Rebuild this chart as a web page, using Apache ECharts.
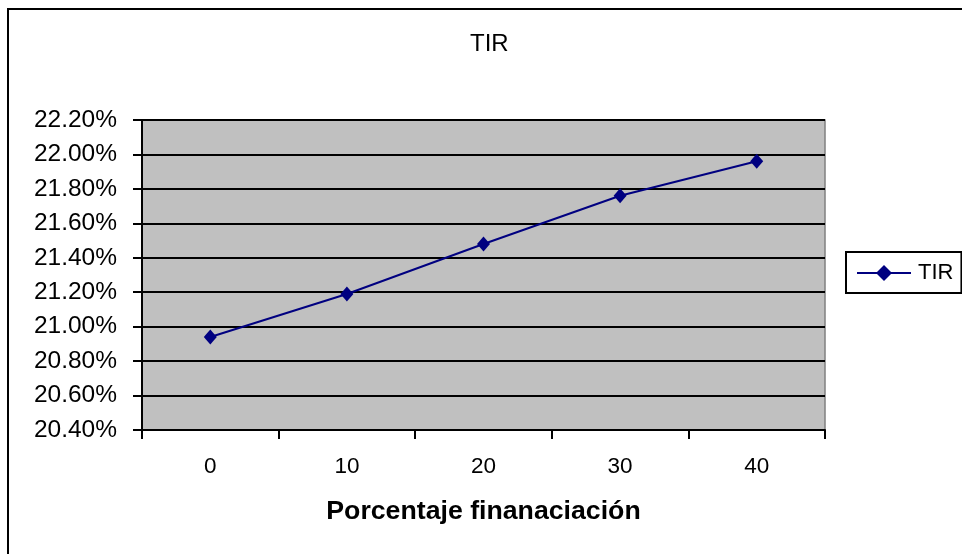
<!DOCTYPE html>
<html>
<head>
<meta charset="utf-8">
<title>TIR</title>
<script src="https://cdn.jsdelivr.net/npm/echarts@6/dist/echarts.min.js"></script>
<style>
  html, body { margin: 0; padding: 0; background: #ffffff; }
  #chart { width: 962px; height: 554px; }
</style>
</head>
<body>
<div id="chart"></div>
<script>
// Porcentaje de financiación (x) against TIR in percent (y)
const categories = ['0', '10', '20', '30', '40'];
const tirValues = [20.94, 21.19, 21.48, 21.76, 21.96];
const yMin = 20.4;
const yMax = 22.2;
const yStep = 0.2;

const FONT = '"Liberation Sans", Arial, sans-serif';

const chart = echarts.init(document.getElementById('chart'), null, { renderer: 'canvas' });

chart.setOption({
  backgroundColor: '#ffffff',
  animation: false,
  title: {
    text: 'TIR',
    left: 470,
    top: 32,
    padding: 0,
    textStyle: { fontFamily: FONT, fontSize: 24, fontWeight: 'normal', color: '#000' }
  },
  legend: {
    data: ['TIR'],
    left: 846,
    top: 252,
    orient: 'vertical',
    padding: [10, 8, 9, 10],
    borderColor: '#000',
    borderWidth: 2,
    backgroundColor: '#fff',
    itemWidth: 54,
    itemHeight: 20,
    itemGap: 0,
    textStyle: { fontFamily: FONT, fontSize: 22, color: '#000', padding: [0, 0, 0, 2] }
  },
  graphic: [
    {
      type: 'rect',
      shape: { x: 8, y: 9, width: 1000, height: 600 },
      style: { fill: 'none', stroke: '#000', lineWidth: 2 },
      silent: true,
      z: -1
    }
  ],
  grid: {
    left: 142,
    top: 120,
    width: 683,
    height: 310,
    show: true,
    backgroundColor: '#C0C0C0',
    borderColor: '#808080',
    borderWidth: 1.5
  },
  xAxis: {
    type: 'category',
    data: categories,
    boundaryGap: true,
    name: 'Porcentaje finanaciación',
    nameLocation: 'middle',
    nameGap: 68,
    nameTextStyle: { fontFamily: FONT, fontSize: 26.7, fontWeight: 'bold', color: '#000' },
    axisLine: { lineStyle: { color: '#000', width: 2 } },
    axisTick: { show: true, inside: false, length: 9, lineStyle: { color: '#000', width: 2 } },
    axisLabel: { margin: 25, fontFamily: FONT, fontSize: 22.5, color: '#000' },
    splitLine: { show: false }
  },
  yAxis: {
    type: 'value',
    min: yMin,
    max: yMax,
    interval: yStep,
    axisLine: { show: true, lineStyle: { color: '#000', width: 2 } },
    axisTick: { show: true, inside: false, length: 9, lineStyle: { color: '#000', width: 2 } },
    axisLabel: {
      margin: 25,
      fontFamily: FONT,
      fontSize: 24.5,
      color: '#000',
      formatter: v => v.toFixed(2) + '%'
    },
    splitLine: { show: true, lineStyle: { color: '#000', width: 2 } }
  },
  series: [
    {
      name: 'TIR',
      type: 'line',
      data: tirValues,
      symbol: 'diamond',
      symbolSize: [13, 15],
      lineStyle: { color: '#000080', width: 2 },
      itemStyle: { color: '#000080', borderWidth: 0 },
      z: 3
    }
  ]
});
</script>
</body>
</html>
